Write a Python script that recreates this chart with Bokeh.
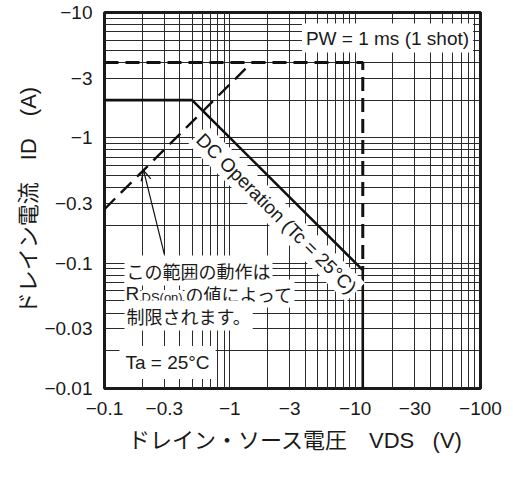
import math
from bokeh.plotting import figure
from bokeh.models import FixedTicker, Label, Arrow, OpenHead
from bokeh.embed import file_html
from bokeh.resources import INLINE

# ---- data (magnitudes; axes show negative values) ----
x_major = [0.1, 0.3, 1, 3, 10, 30, 100]
x_labels = ["\u22120.1", "\u22120.3", "\u22121", "\u22123", "\u221210", "\u221230", "\u2212100"]
y_major = [0.01, 0.03, 0.1, 0.3, 1, 3, 10]
y_labels = ["\u22120.01", "\u22120.03", "\u22120.1", "\u22120.3", "\u22121", "\u22123", "\u221210"]
x_decades = [0.1, 1, 10]
y_decades = [0.01, 0.1, 1]
multipliers = [2, 4, 5, 6, 7, 8, 9]

dc_v = [0.1, 0.5, 11.5, 11.5]          # DC operation boundary (V)
dc_i = [2.0, 2.0, 0.088, 0.01]          # (A)
pulse_v = [0.1, 11.5, 11.5]             # PW = 1 ms boundary
pulse_i = [4.0, 4.0, 0.088]
rds_v = [0.1, 1.5]                      # RDS(on) limit line
rds_i = [0.27, 4.0]
arrow_tail = [0.30, 0.118]
arrow_tip = [0.205, 0.55]

NB = "\u00a0"
x_title = NB + "ドレイン・ソース電圧\u3000VDS" + NB * 3 + "(V)"
y_title = "ドレイン電流\u3000ID\u3000(A)"

LAT = "Liberation Sans"
CJK = "Noto Sans CJK JP"
MIX = "Liberation Sans, Noto Sans CJK JP"

# page-pixel -> data helpers for annotation placement (frame: x 104..480, y 12..388)
DEC = 376 / 3.0
def px2x(px):
    return 10 ** (-1 + (px - 104) / DEC)
def py2y(py):
    return 10 ** (1 - (py - 12) / DEC)

p = figure(width=512, height=477, x_axis_type="log", y_axis_type="log",
           x_range=(0.1, 100), y_range=(0.01, 10),
           min_border_left=104, min_border_right=32, min_border_top=12, min_border_bottom=89,
           output_backend="svg", toolbar_location=None)

x_minor = [d * m for d in x_decades for m in multipliers]
y_minor = [d * m for d in y_decades for m in multipliers]
p.xaxis.ticker = FixedTicker(ticks=x_major, minor_ticks=x_minor)
p.yaxis.ticker = FixedTicker(ticks=y_major, minor_ticks=y_minor)
p.xaxis.major_label_overrides = dict(zip(x_major, x_labels))
p.yaxis.major_label_overrides = dict(zip(y_major, y_labels))

for ax in (p.xaxis, p.yaxis):
    ax.axis_line_color = None
    ax.major_tick_line_color = None
    ax.minor_tick_line_color = None
    ax.major_tick_out = 0
    ax.major_tick_in = 0
    ax.major_label_text_font = LAT
    ax.major_label_text_font_size = "19px"
    ax.major_label_text_color = "#1a1a1a"
    ax.axis_label_text_font = MIX
    ax.axis_label_text_font_size = "22px"
    ax.axis_label_text_font_style = "normal"
    ax.axis_label_text_color = "#1a1a1a"
p.xaxis.major_label_standoff = 9
p.yaxis.major_label_standoff = 8
p.xaxis.axis_label = x_title
p.yaxis.axis_label = y_title
p.xaxis.axis_label_standoff = 10
p.yaxis.axis_label_standoff = 0

for g in (p.xgrid, p.ygrid):
    g.grid_line_color = "#2a2a2a"
    g.grid_line_width = 1
    g.minor_grid_line_color = "#2a2a2a"
    g.minor_grid_line_width = 1

p.outline_line_color = "#1a1a1a"
p.outline_line_width = 3
p.background_fill_color = "white"

# curves
p.line(dc_v, dc_i, line_color="#111111", line_width=2.6)
p.line(pulse_v, pulse_i, line_color="#111111", line_width=3, line_dash="14 7")
p.line(rds_v, rds_i, line_color="#111111", line_width=2.4, line_dash="15 8")

p.add_layout(Arrow(end=OpenHead(size=10, line_width=1.2, line_color="#111111"),
                   x_start=arrow_tail[0], y_start=arrow_tail[1],
                   x_end=arrow_tip[0], y_end=arrow_tip[1],
                   line_width=1.2, line_color="#111111"))

def lab(px, py, text, size, font=LAT, align="center", angle=0.0, bg=True, pad=2,
        color="#1a1a1a"):
    kw = dict(x=px2x(px), y=py2y(py), text=text, text_font=font,
              text_font_size=f"{size}px", text_align=align, text_baseline="middle",
              angle=angle, text_color=color)
    if bg:
        kw.update(background_fill_color="white", padding=pad)
    p.add_layout(Label(**kw))

lab(387, 37.5, "PW = 1 ms (1 shot)", 19, pad=4)
lab(276, 213, "DC Operation (Tc = 25\u00b0C)", 19, angle=-math.pi / 4, pad=3)
lab(167, 362, "Ta = 25\u00b0C", 19, pad=6)

lab(124, 270, "この範囲の動作は", 18, font=CJK, align="left", pad=2)
lab(184, 293, "の値によって", 18, font=CJK, align="left", pad=1)
lab(124, 293, "R", 19, align="left", pad=1)
lab(141, 297, "DS(on)", 13, align="left", pad=0)
lab(124, 315, "制限されます。", 18, font=CJK, align="left", pad=2)

open("out.html", "w").write(file_html(p, INLINE))
